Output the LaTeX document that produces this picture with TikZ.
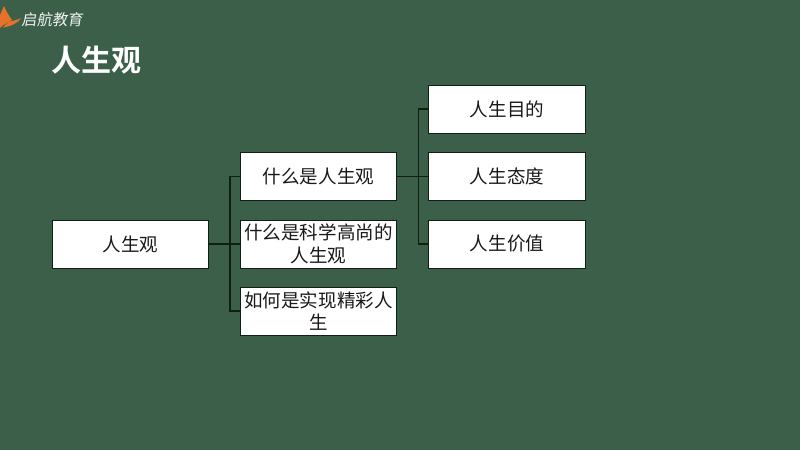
\documentclass[tikz,border=0pt]{standalone}
\usepackage{fontspec}
\newfontfamily\cjk{Noto Sans CJK SC}
\newfontfamily\cjkb{Noto Sans CJK SC Bold}
\definecolor{bg}{HTML}{3B5F48}
\definecolor{logoorange}{HTML}{E8712A}
\definecolor{linecol}{HTML}{0F1F14}
\tikzset{
  box/.style={draw=linecol,line width=0.75pt,fill=white,inner sep=0pt,align=center,
    font=\cjk\fontsize{13.9}{17}\selectfont,text=black!90},
  conn/.style={draw=linecol,line width=0.85pt}
}
\begin{document}
\begin{tikzpicture}[x=0.75pt,y=-0.75pt]
\path[use as bounding box,fill=bg] (0,0) rectangle (800,450);
% logo
\fill[logoorange] (4,6) .. controls (6,11) and (9,16) .. (12,20) .. controls (8,22) and (3,25) .. (0,28) -- (0,15) -- cycle;
\fill[logoorange] (9,21.5) .. controls (13,21) and (17,20) .. (21,18) .. controls (18,23) and (12,26) .. (3,27.5) .. controls (5,25) and (7,23) .. (9,21.5) -- cycle;
\node[anchor=center,text=white!92!bg,inner sep=0pt,xslant=0.15] (logo) at (53,20) {\cjk\fontsize{11.5}{12}\selectfont 启航教育};
\node[anchor=center,text=white,inner sep=0pt] (title) at (96.5,60) {\cjkb\fontsize{22.5}{24}\selectfont 人生观};
% boxes
\node[box,minimum width=117.5pt,minimum height=36pt] (root) at (130.5,244) {人生观};
\node[box,minimum width=117.5pt,minimum height=36pt] (a) at (318.5,176.5) {什么是人生观};
\node[box,minimum width=117.5pt,minimum height=36pt] (b) at (318.5,244) {什么是科学高尚的\\人生观};
\node[box,minimum width=117.5pt,minimum height=36pt] (c) at (318.5,311) {如何是实现精彩人\\生};
\node[box,minimum width=117.5pt,minimum height=36pt] (d) at (507,109) {人生目的};
\node[box,minimum width=117.5pt,minimum height=36pt] (e) at (507,176.5) {人生态度};
\node[box,minimum width=117.5pt,minimum height=36pt] (f) at (507,244) {人生价值};
% connectors
\coordinate (j1) at (230,244);
\coordinate (j2) at (418.5,176.5);
\draw[conn] (root.east) -- (b.west);
\draw[conn] (j1) |- (a.west);
\draw[conn] (j1) |- (c.west);
\draw[conn] (a.east) -- (e.west);
\draw[conn] (j2) |- (d.west);
\draw[conn] (j2) |- (f.west);
\end{tikzpicture}
\end{document}
